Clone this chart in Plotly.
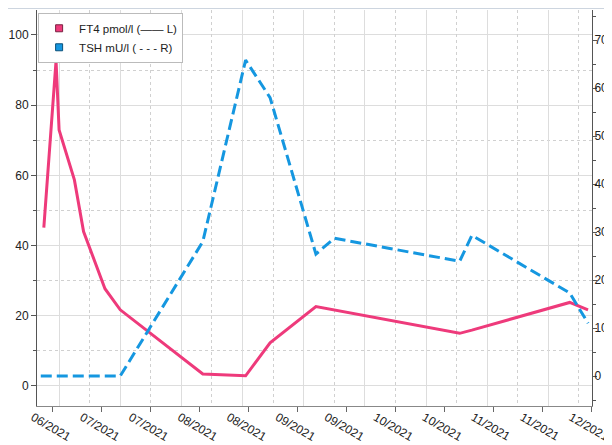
import plotly.graph_objects as go

# ---- data ----
ft4_dates = ["2021-06-17", "2021-06-21", "2021-06-22", "2021-06-24", "2021-06-27",
             "2021-06-30", "2021-07-07", "2021-07-12", "2021-08-08", "2021-08-22",
             "2021-08-30", "2021-09-14", "2021-10-31", "2021-11-04", "2021-12-06",
             "2021-12-12"]
ft4_values = [45.1, 92.6, 72.9, 67.2, 58.7, 44.0, 27.7, 21.7, 3.4, 2.9,
              12.3, 22.6, 15.0, 15.9, 23.8, 21.7]

tsh_dates = ["2021-06-16", "2021-06-21", "2021-07-12", "2021-08-08", "2021-08-22",
             "2021-08-30", "2021-09-14", "2021-09-20", "2021-10-31", "2021-11-04",
             "2021-12-06", "2021-12-12"]
tsh_values = [0, 0, 0, 28.0, 65.8, 58.0, 25.4, 28.7, 23.9, 29.3, 17.3, 11.0]

tick_dates = ["2021-06-20", "2021-07-06", "2021-07-22", "2021-08-07", "2021-08-23",
              "2021-09-08", "2021-09-24", "2021-10-10", "2021-10-26", "2021-11-11",
              "2021-11-27", "2021-12-13"]
tick_labels = ["06/2021", "07/2021", "07/2021", "08/2021", "08/2021", "09/2021",
               "09/2021", "10/2021", "10/2021", "11/2021", "11/2021", "12/2021"]

ft4_name = "FT4 pmol/l (—— L)"
tsh_name = "TSH mU/l ( - - - R)"

PINK = "#EE3A7B"
BLUE = "#1597E0"
FONT = "Liberation Sans, Arial, sans-serif"
x_range = ["2021-06-14 18:30", "2021-12-13 07:00"]
DAY = 86400000

fig = go.Figure()

# invisible traces so the grid-only overlay axes are drawn
fig.add_trace(go.Scatter(x=x_range, y=[None, None], mode="lines",
                         xaxis="x2", yaxis="y", showlegend=False,
                         hoverinfo="skip"))
fig.add_trace(go.Scatter(x=x_range, y=[None, None], mode="lines",
                         xaxis="x3", yaxis="y", showlegend=False,
                         hoverinfo="skip"))

fig.add_trace(go.Scatter(x=ft4_dates, y=ft4_values, mode="lines", name=ft4_name,
                         line=dict(color=PINK, width=3), showlegend=False,
                         xaxis="x", yaxis="y"))
fig.add_trace(go.Scatter(x=tsh_dates, y=tsh_values, mode="lines", name=tsh_name,
                         line=dict(color=BLUE, width=3, dash="11px,5px"),
                         showlegend=False, xaxis="x", yaxis="y2"))

# legend entries with square swatches
fig.add_trace(go.Scatter(x=[None], y=[None], mode="markers", name=ft4_name,
                         marker=dict(symbol="square", size=7, color=PINK,
                                     line=dict(color="#7a2040", width=1))))
fig.add_trace(go.Scatter(x=[None], y=[None], mode="markers", name=tsh_name,
                         marker=dict(symbol="square", size=7, color=BLUE,
                                     line=dict(color="#0b4f78", width=1))))

# the page body adds an 8px offset
fig.update_layout(
    width=604, height=437,
    margin=dict(l=29, r=20, t=2, b=39, autoexpand=False),
    paper_bgcolor="white", plot_bgcolor="white",
    font=dict(family=FONT, size=12, color="#222"),
    showlegend=True,
    legend=dict(x=0.002, y=0.993, xanchor="left", yanchor="top",
                bgcolor="white", bordercolor="#bbbbbb", borderwidth=1,
                font=dict(size=11.5, color="#222"), itemwidth=30,
                tracegroupgap=0),
    xaxis=dict(type="date", range=x_range, tickmode="array",
               tickvals=tick_dates, ticktext=tick_labels, tickangle=30,
               ticklabelshift=-20, ticklabelstandoff=-6, automargin=False,
               ticks="outside", ticklen=5, tickcolor="#666",
               showgrid=False, zeroline=False, showline=True,
               linecolor="#888", linewidth=1,
               tickfont=dict(size=12, color="#222")),
    xaxis2=dict(type="date", range=x_range, overlaying="x", automargin=False,
                tick0="2021-06-22", dtick=20 * DAY,
                showgrid=True, gridcolor="#dddddd", gridwidth=1,
                showticklabels=False, ticks="", showline=False, zeroline=False),
    xaxis3=dict(type="date", range=x_range, overlaying="x", automargin=False,
                tick0="2021-06-12", dtick=20 * DAY,
                showgrid=True, gridcolor="#d0d0d0", gridwidth=1, griddash="dot",
                showticklabels=False, ticks="", showline=False, zeroline=False),
    yaxis=dict(range=[-5.7, 107.1], tick0=0, dtick=20, automargin=False,
               showgrid=True, gridcolor="#dddddd", gridwidth=1,
               zeroline=False, showline=True, linecolor="#555", linewidth=1,
               ticks="outside", ticklen=5, tickcolor="#555",
               tickfont=dict(size=12, color="#222"),
               minor=dict(dtick=10, showgrid=True, gridcolor="#d0d0d0",
                          griddash="dot", ticks="outside", ticklen=3,
                          tickcolor="#555")),
    yaxis2=dict(range=[-6.25, 76.25], overlaying="y", side="right",
                automargin=False, ticklabelstandoff=-5,
                tick0=0, dtick=10, showgrid=False, zeroline=False,
                showline=True, linecolor="#555", linewidth=1,
                ticks="outside", ticklen=4, tickcolor="#555",
                tickfont=dict(size=12, color="#222"),
                minor=dict(dtick=5, ticks="outside", ticklen=3,
                           tickcolor="#555", showgrid=False)),
)

# thin top border line of the container
fig.add_shape(type="line", xref="paper", yref="paper",
              x0=-0.06, x1=1.04, y0=1.004, y1=1.004,
              line=dict(color="#c9d1dc", width=1))

fig.write_html("out.html")
